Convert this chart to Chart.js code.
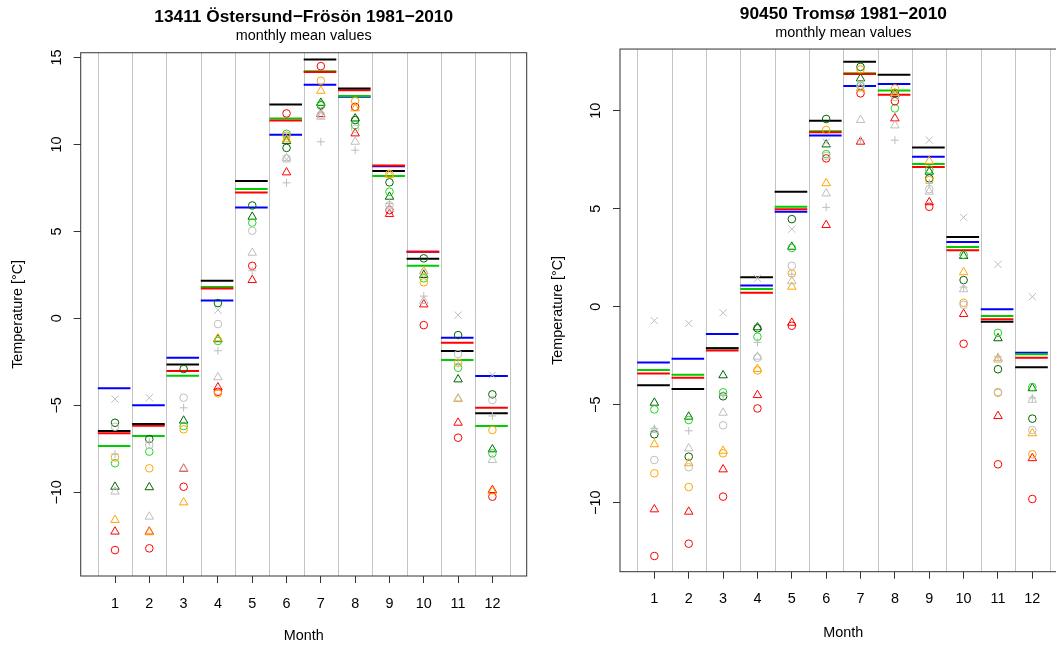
<!DOCTYPE html>
<html>
<head>
<meta charset="utf-8">
<title>Monthly mean temperature 1981-2010</title>
<script src="https://cdn.jsdelivr.net/npm/chart.js@4/dist/chart.umd.min.js"></script>
<style>
    html, body { margin: 0; padding: 0; background: #fff; overflow: hidden; }
    #wrap { position: relative; width: 1056px; height: 648px; overflow: hidden; }
    canvas { position: absolute; top: 0; }
    #ost { left: 0; }
    #tro { left: 540px; }
</style>
</head>
<body>
<div id="wrap">
    <canvas id="ost" width="540" height="648"></canvas>
    <canvas id="tro" width="540" height="648"></canvas>
</div>
<script>
const months = [1, 2, 3, 4, 5, 6, 7, 8, 9, 10, 11, 12];
const ostTicks = [-10, -5, 0, 5, 10, 15];
const troTicks = [-10, -5, 0, 5, 10];

/* 13411 Östersund-Frösön: mean lines */
const ostBlack = [-6.48, -6.07, -2.65, 2.16, 7.89, 12.30, 14.88, 13.22, 8.47, 3.43, -1.88, -5.46];
const ostRed   = [-6.61, -6.17, -3.03, 1.72, 7.24, 11.38, 14.17, 13.12, 8.79, 3.83, -1.40, -5.14];
const ostGreen = [-7.34, -6.76, -3.30, 1.80, 7.43, 11.49, 14.21, 12.78, 8.18, 3.02, -2.40, -6.19];
const ostBlue  = [-4.01, -5.00, -2.26, 1.03, 6.38, 10.55, 13.43, 12.74, 8.75, 3.83, -1.11, -3.32];
/* Östersund: points */
const ostDgCircle = [-6.00, -6.94, -2.91, 0.88, 6.49, 9.80, 12.25, 11.40, 7.82, 3.45, -0.96, -4.37];
const ostDgTri    = [-9.68, -9.71, -5.88, -1.20, 5.84, 10.19, 12.39, 11.49, 6.99, 2.49, -3.51, -7.53];
const ostGCircle  = [-8.33, -7.66, -6.19, -1.30, 5.50, 10.61, 12.30, 11.11, 7.28, 2.30, -2.84, -7.76];
const ostRCircle  = [-13.32, -13.22, -9.68, -4.22, 3.02, 11.78, 14.50, 12.16, 6.22, -0.39, -6.86, -10.25];
const ostRTri     = [-12.26, -12.26, -8.65, -3.97, 2.20, 8.39, 11.74, 10.63, 6.00, 0.80, -6.00, -9.87];
const ostOCircle  = [-7.99, -8.62, -6.38, -4.31, null, 10.50, 13.66, 12.49, 8.30, 2.07, -2.55, -6.42];
const ostOTri     = [-11.59, -12.30, -10.58, -1.15, null, 10.29, 13.08, 12.07, 8.25, 2.70, -4.64, -9.95];
const ostGrCircle = [-6.23, -7.28, -4.56, -0.33, 5.04, 9.19, 11.70, 10.90, 6.50, 2.60, -2.05, -4.70];
const ostGrTri    = [-9.96, -11.40, -8.62, -3.39, 3.77, 9.20, 11.59, 10.15, 6.30, 1.00, -4.60, -8.14];
const ostGrX      = [-4.64, -4.56, null, 0.48, null, 9.15, 11.90, null, null, null, 0.19, -3.26];
const ostGrPlus   = [-7.80, -7.10, -5.14, -1.86, 2.74, 7.79, 10.15, 9.67, 6.60, 1.28, -2.60, -5.61];

/* 90450 Tromsø: mean lines */
const troBlack = [-4.01, -4.20, -2.12, 1.50, 5.87, 9.49, 12.50, 11.84, 8.13, 3.56, -0.76, -3.09];
const troRed   = [-3.40, -3.62, -2.23, 0.71, 4.98, 8.91, 11.87, 10.82, 7.13, 2.88, -0.64, -2.60];
const troGreen = [-3.23, -3.47, -2.10, 0.90, 5.10, 8.96, 11.91, 11.04, 7.28, 3.05, -0.47, -2.43];
const troBlue  = [-2.84, -2.65, -1.39, 1.09, 4.85, 8.74, 11.26, 11.36, 7.65, 3.30, -0.13, -2.35];
/* Tromsø: points */
const troDgCircle = [-6.51, -7.65, -4.57, -1.10, 4.47, 9.58, 12.24, 10.89, 6.55, 1.36, -3.19, -5.71];
const troDgTri    = [-4.90, -5.61, -3.50, -1.05, 3.06, 8.28, 11.65, 10.85, 6.89, 2.59, -1.61, -4.16];
const troGCircle  = [-5.24, -5.78, -4.37, -1.53, 3.00, 7.79, 11.26, 10.12, 7.00, 2.65, -1.33, -4.10];
const troRCircle  = [-12.72, -12.09, -9.69, -5.19, -0.97, 7.57, 10.89, 10.49, 5.10, -1.89, -8.04, -9.81];
const troRTri     = [-10.34, -10.46, -8.30, -4.51, -0.82, 4.17, 8.42, 9.61, 5.33, -0.37, -5.58, -7.73];
const troOCircle  = [-8.50, -9.20, -7.48, -3.25, 1.70, 9.02, 12.11, 11.14, 6.46, 0.20, -4.39, -7.53];
const troOTri     = [-7.02, -7.99, -7.35, -3.18, 1.02, 6.30, 11.14, 10.90, 7.43, 1.76, -2.63, -6.46];
const troGrCircle = [-7.82, -8.19, -6.05, -2.60, 2.09, 7.70, 11.30, 10.70, 6.00, 0.10, -4.35, -6.29];
const troGrTri    = [-6.30, -7.23, -5.41, -2.55, 1.30, 5.78, 9.53, 9.25, 5.87, 0.89, -2.70, -4.75];
const troGrX      = [-0.71, -0.85, -0.31, 1.45, 3.96, 8.39, 11.40, null, 8.50, 4.56, 2.16, 0.51];
const troGrPlus   = [-6.21, -6.33, -4.50, -1.82, 1.66, 5.07, 8.50, 8.50, 6.30, 1.00, -2.55, -4.65];

const cBlack = '#000000';
const cRed = '#ff0000';
const cGreen = '#00cd00';
const cLime = '#1fd81f';
const cBlue = '#0000ff';
const cDarkGreen = '#006400';
const cOrange = '#ffa500';
const cGray = '#bebebe';

const fontSize = 14.4;

Chart.defaults.font.family = '"Liberation Sans", Arial, Helvetica, sans-serif';
Chart.defaults.color = '#000';

function minus(v) {
    return v < 0 ? '\u2212' + Math.abs(v) : String(v);
}

// one horizontal bar per month, broken with a null between months
function segments(vals) {
    const pts = [];
    vals.forEach(function(v, i) {
        const m = months[i];
        pts.push({x: m - 0.5, y: v}, {x: m + 0.45, y: v}, {x: m + 0.47, y: null});
    });
    return pts;
}

function points(vals) {
    return months.map(function(m, i) { return {x: m, y: vals[i]}; })
        .filter(function(p) { return p.y !== null; });
}

function lineSet(vals, color) {
    return {
        data: segments(vals),
        showLine: true,
        borderColor: color,
        borderWidth: 2,
        pointRadius: 0,
        spanGaps: false,
        order: 2
    };
}

function markSet(vals, color, style) {
    let r = 3.8;
    if (style === 'triangle') r = 4.9;
    if (style === 'cross') r = 4;
    if (style === 'crossRot') r = 5.1;
    return {
        data: points(vals),
        pointStyle: style,
        pointRadius: r,
        pointBorderColor: color,
        pointBackgroundColor: 'rgba(0,0,0,0)',
        pointBorderWidth: 1,
        borderColor: color,
        order: 1
    };
}

/*caja, rejilla y etiquetas del eje y*/
const framePlugin = {
    id: 'frame',
    beforeDatasetsDraw(chart) {
        const {ctx, chartArea: a, scales: {x}} = chart;
        ctx.save();
        ctx.strokeStyle = '#c4c4c4';
        ctx.lineWidth = 1;
        months.map(function(m) { return m - 0.5; }).concat([12.5]).forEach(function(v) {
            const px = Math.round(x.getPixelForValue(v)) + 0.5;
            ctx.beginPath();
            ctx.moveTo(px, a.top);
            ctx.lineTo(px, a.bottom);
            ctx.stroke();
        });
        ctx.restore();
    },
    afterDraw(chart) {
        const {ctx, chartArea: a, scales: {y}} = chart;
        ctx.save();
        ctx.strokeStyle = '#333';
        ctx.lineWidth = 1;
        ctx.strokeRect(a.left, a.top, a.right - a.left, a.bottom - a.top);
        ctx.fillStyle = '#000';
        ctx.font = fontSize + 'px "Liberation Sans", Arial, sans-serif';
        ctx.textAlign = 'center';
        ctx.textBaseline = 'middle';
        y.ticks.forEach(function(t) {
            ctx.save();
            ctx.translate(a.left - 24, y.getPixelForValue(t.value));
            ctx.rotate(-Math.PI / 2);
            ctx.fillText(minus(t.value), 0, 0);
            ctx.restore();
        });
        ctx.restore();
    }
};

function makeChart(id, s) {
    // lower index is drawn on top
    const datasets = [
        lineSet(s.black, cBlack),
        lineSet(s.red, cRed),
        lineSet(s.green, cGreen),
        lineSet(s.blue, cBlue),
        markSet(s.grX, cGray, 'crossRot'),
        markSet(s.grPlus, cGray, 'cross'),
        markSet(s.grTri, cGray, 'triangle'),
        markSet(s.grCircle, cGray, 'circle'),
        markSet(s.oTri, cOrange, 'triangle'),
        markSet(s.oCircle, cOrange, 'circle'),
        markSet(s.rTri, cRed, 'triangle'),
        markSet(s.rCircle, cRed, 'circle'),
        markSet(s.gCircle, cLime, 'circle'),
        markSet(s.dgTri, cDarkGreen, 'triangle'),
        markSet(s.dgCircle, cDarkGreen, 'circle')
    ];

    return new Chart(document.getElementById(id), {
        type: 'scatter',
        data: {datasets: datasets},
        plugins: [framePlugin],
        options: {
            responsive: false,
            animation: false,
            events: [],
            layout: {padding: {left: 0, right: 13.3, top: 0, bottom: 0}},
            plugins: {
                legend: {display: false},
                tooltip: {enabled: false},
                title: {
                    display: true,
                    text: s.title,
                    fullSize: false,
                    color: '#000',
                    font: {size: 17.3, weight: 'bold'},
                    padding: {top: s.topPad, bottom: 0}
                },
                subtitle: {
                    display: true,
                    text: 'monthly mean values',
                    fullSize: false,
                    color: '#000',
                    font: {size: fontSize},
                    padding: {top: 0, bottom: s.subPad}
                }
            },
            scales: {
                x: {
                    type: 'linear',
                    min: 0,
                    max: 13,
                    afterBuildTicks: function(scale) {
                        scale.ticks = months.map(function(m) { return {value: m}; });
                    },
                    afterFit: function(scale) { scale.height = s.xHeight; },
                    ticks: {autoSkip: false, maxRotation: 0, padding: 12, font: {size: fontSize}, color: '#000'},
                    grid: {drawOnChartArea: false, tickLength: 7, color: '#333'},
                    border: {display: false},
                    title: {display: true, text: 'Month', font: {size: fontSize}, color: '#000',
                            padding: {top: 0, bottom: s.monthPad}}
                },
                y: {
                    type: 'linear',
                    min: s.yMin,
                    max: s.yMax,
                    afterBuildTicks: function(scale) {
                        scale.ticks = s.ticks.map(function(v) { return {value: v}; });
                    },
                    afterFit: function(scale) { scale.width = s.yWidth; },
                    ticks: {display: false},
                    grid: {drawOnChartArea: false, tickLength: 7, color: '#333'},
                    border: {display: false},
                    title: {display: true, text: 'Temperature [°C]', font: {size: fontSize}, color: '#000',
                            padding: {top: 9.8, bottom: 0}}
                }
            }
        }
    });
}

makeChart('ost', {
    title: '13411 \u00d6stersund\u2212Fr\u00f6s\u00f6n 1981\u22122010',
    topPad: 7,
    subPad: 7.7,
    xHeight: 72,
    monthPad: 3.4,
    yWidth: 80.7,
    yMin: -14.81,
    yMax: 15.27,
    ticks: ostTicks,
    black: ostBlack, red: ostRed, green: ostGreen, blue: ostBlue,
    dgCircle: ostDgCircle, dgTri: ostDgTri, gCircle: ostGCircle,
    rCircle: ostRCircle, rTri: ostRTri, oCircle: ostOCircle, oTri: ostOTri,
    grCircle: ostGrCircle, grTri: ostGrTri, grX: ostGrX, grPlus: ostGrPlus
});

makeChart('tro', {
    title: '90450 Troms\u00f8 1981\u22122010',
    topPad: 3.6,
    subPad: 7.4,
    xHeight: 76.3,
    monthPad: 6.4,
    yWidth: 80,
    yMin: -13.52,
    yMax: 13.15,
    ticks: troTicks,
    black: troBlack, red: troRed, green: troGreen, blue: troBlue,
    dgCircle: troDgCircle, dgTri: troDgTri, gCircle: troGCircle,
    rCircle: troRCircle, rTri: troRTri, oCircle: troOCircle, oTri: troOTri,
    grCircle: troGrCircle, grTri: troGrTri, grX: troGrX, grPlus: troGrPlus
});
</script>
</body>
</html>
